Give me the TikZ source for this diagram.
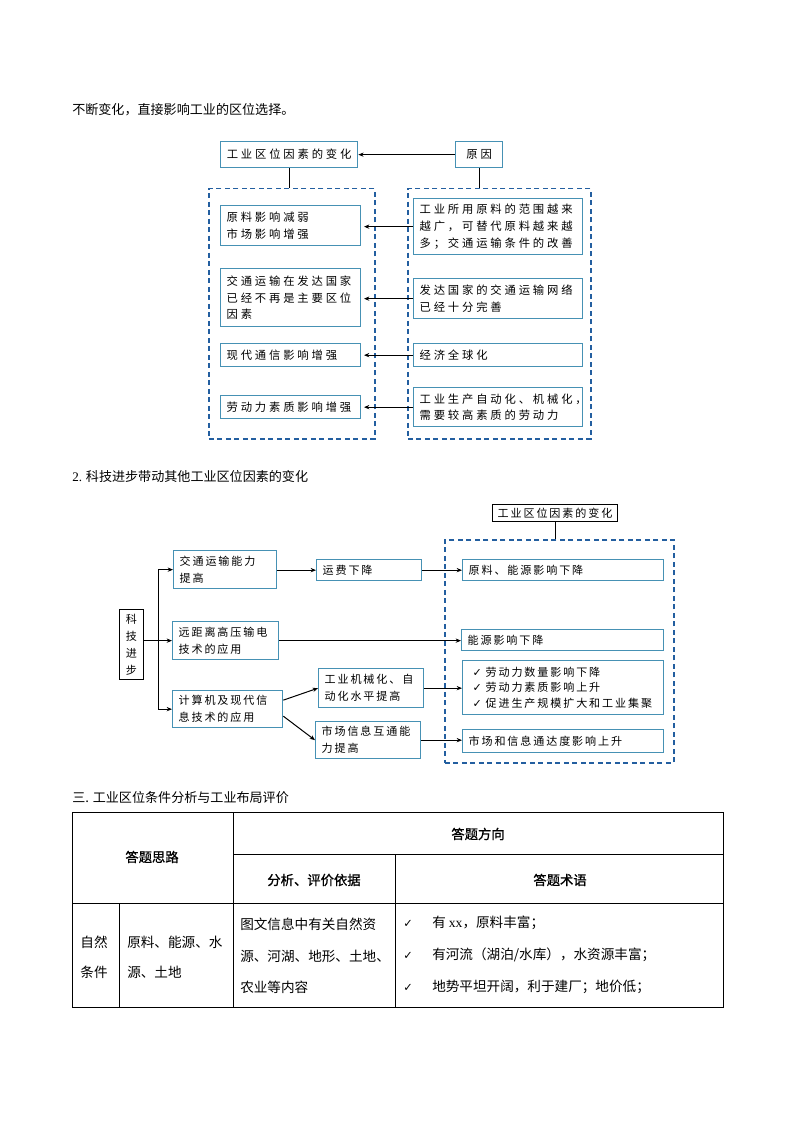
\documentclass[tikz,border=0pt]{standalone}
\usepackage{fontspec}
\setmainfont{Noto Sans CJK SC}
\newfontfamily\bxA[LetterSpace=25]{Noto Sans CJK SC}
\newfontfamily\bxB[LetterSpace=17]{Noto Sans CJK SC}
\newfontfamily\hdfont[FakeBold=1]{Noto Sans CJK SC}
\newfontfamily\djv{DejaVu Sans}
\newfontfamily\lat{Liberation Serif}
\usetikzlibrary{arrows.meta,calc}
\newdimen\px \px=0.75pt
\definecolor{boxc}{RGB}{70,145,180}
\definecolor{dashc}{RGB}{35,95,160}
\begin{document}
\begin{tikzpicture}[x=0.75pt,y=-0.75pt,
  bxa/.style={draw=boxc, line width=1.3\px, anchor=north west, inner xsep=6\px, inner ysep=0pt, align=left, font=\bxA\fontsize{8.5pt}{12.5pt}\selectfont},
  bxb/.style={draw=boxc, line width=1.3\px, anchor=north west, inner xsep=6\px, inner ysep=0pt, align=left, font=\bxB\fontsize{8.3pt}{12.75pt}\selectfont},
  blk/.style={draw=black, line width=1\px, anchor=north west, inner sep=0pt, align=center, font=\bxB\fontsize{8.3pt}{12.75pt}\selectfont},
  dbox/.style={draw=dashc, line width=1.5\px, dash pattern=on 5\px off 3.5\px, anchor=north west, inner sep=0pt},
  arr/.style={-{Stealth[length=4pt,width=3.2pt]}, line width=1\px},
  ln/.style={line width=1\px},
  tl/.style={line width=1\px},
  head/.style={anchor=west, font=\fontsize{9.8pt}{12pt}\selectfont, inner sep=0pt},
  tt/.style={font=\fontsize{10.2pt}{12pt}\selectfont, inner sep=0pt},
  th/.style={font=\hdfont\fontsize{10pt}{12pt}\selectfont, inner sep=0pt}
]
\useasboundingbox (0,0) rectangle (794,1123);

% ---------- top text ----------
\node[head] (t1) at (72,110) {不断变化，直接影响工业的区位选择。};

% ---------- diagram 1 ----------
\node[bxa, align=center, text width=125\px, minimum height=26\px] (A) at (220,141) {工业区位因素的变化};
\node[bxa, align=center, text width=35\px, minimum height=26\px] (B) at (455,141) {原因};
\node[dbox, minimum width=166\px, minimum height=250\px] (DL) at (208,188) {};
\node[dbox, minimum width=183\px, minimum height=250\px] (DR) at (407,188) {};

\node[bxa, text width=128\px, minimum height=40\px] (L1) at (220,205) {原料影响减弱\\市场影响增强};
\node[bxa, text width=128\px, minimum height=58\px] (L2) at (220,268) {交通运输在发达国家\\已经不再是主要区位\\因素};
\node[bxa, text width=128\px, minimum height=23\px] (L3) at (220,343) {现代通信影响增强};
\node[bxa, text width=128\px, minimum height=23\px] (L4) at (220,395) {劳动力素质影响增强};

\node[bxa, text width=157\px, minimum height=56\px] (R1) at (413,198) {工业所用原料的范围越来\\越广，可替代原料越来越\\多；交通运输条件的改善};
\node[bxa, text width=157\px, minimum height=40\px] (R2) at (413,278) {发达国家的交通运输网络\\已经十分完善};
\node[bxa, text width=157\px, minimum height=23\px] (R3) at (413,343) {经济全球化};
\node[bxa, text width=157\px, minimum height=39\px] (R4) at (413,387) {工业生产自动化、机械化，\\需要较高素质的劳动力};

\draw[arr] (B.west) -- (A.east);
\draw[ln] (A.south) -- (A.south |- DL.north);
\draw[ln] (B.south) -- (B.south |- DR.north);
\coordinate (lend) at (364,0);
\draw[arr] (R1.west) -- (R1.west -| lend);
\draw[arr] (R2.west) -- (R2.west -| lend);
\draw[arr] (R3.west) -- (R3.west -| lend);
\draw[arr] (R4.west) -- (R4.west -| lend);

% ---------- heading 2 ----------
\node[head] (t2) at (72,476) {{\lat 2.} 科技进步带动其他工业区位因素的变化};

% ---------- diagram 2 ----------
\node[blk, minimum width=24\px, minimum height=70\px] (K) at (119,609) {科\\技\\进\\步};
\node[bxb, text width=91\px, minimum height=38\px] (T1) at (173,550) {交通运输能力\\提高};
\node[bxb, text width=94\px, minimum height=38\px] (T2) at (172,621) {远距离高压输电\\技术的应用};
\node[bxb, text width=98\px, minimum height=37\px] (T3) at (172,690) {计算机及现代信\\息技术的应用};
\node[bxb, text width=93\px, minimum height=21\px] (M1) at (316,559) {运费下降};
\node[bxb, text width=93\px, minimum height=39\px] (M2) at (318,668) {工业机械化、自\\动化水平提高};
\node[bxb, text width=93\px, minimum height=37\px] (M3) at (315,721) {市场信息互通能\\力提高};

\node[blk, minimum width=125\px, minimum height=17\px] (H) at (492,504) {工业区位因素的变化};
\node[dbox, minimum width=229\px, minimum height=223\px] (D2) at (444,539) {};
\node[bxb, text width=189\px, minimum height=21\px] (E1) at (462,559) {原料、能源影响下降};
\node[bxb, text width=190\px, minimum height=21\px] (E2) at (461,629) {能源影响下降};
\node[bxb, inner xsep=10\px, text width=181\px, minimum height=54\px, font=\bxB\fontsize{8.3pt}{11.6pt}\selectfont] (E3) at (462,660)
  {\makebox[13\px][l]{\djv ✓}劳动力数量影响下降\\\makebox[13\px][l]{\djv ✓}劳动力素质影响上升\\\makebox[13\px][l]{\djv ✓}促进生产规模扩大和工业集聚};
\node[bxb, text width=189\px, minimum height=23\px] (E4) at (462,729) {市场和信息通达度影响上升};

\coordinate (trunk) at (158,0);
\draw[ln] (K.east |- T2.west) -- (T2.west -| trunk);
\draw[ln] (T1.west -| trunk) -- (T3.west -| trunk);
\draw[arr] (T1.west -| trunk) -- (T1.west);
\draw[arr] (T2.west -| trunk) -- (T2.west);
\draw[arr] (T3.west -| trunk) -- (T3.west);
\draw[arr] (M1.west -| T1.east) -- (M1.west);
\draw[arr] (M1.east) -- (E1.west);
\draw[arr] (T2.east) -- (T2.east -| E2.west);
\draw[arr] ($(T3.east)+(0,-9)$) -- (M2.west);
\draw[arr] ($(T3.east)+(0,7)$) -- (M3.west);
\draw[arr] (M2.east) -- (M2.east -| E3.west);
\draw[arr] (M3.east) -- (M3.east -| E4.west);
\draw[ln] (H.south) -- (H.south |- D2.north);

% ---------- heading 3 ----------
\node[head] (t3) at (72,798) {三. 工业区位条件分析与工业布局评价};

% ---------- table ----------
\draw[tl] (72,812) rectangle (723,1007);
\draw[tl] (72,903) -- (723,903);
\draw[tl] (233,854) -- (723,854);
\draw[tl] (233,812) -- (233,1007);
\draw[tl] (395,854) -- (395,1007);
\draw[tl] (119,903) -- (119,1007);

\node[th] (h1) at (478,834) {答题方向};
\node[th] (h2) at (152,857) {答题思路};
\node[th] (h3) at (314,880) {分析、评价依据};
\node[th] (h4) at (560,880) {答题术语};

\node[tt, align=center, font=\fontsize{10.2pt}{22.5pt}\selectfont] (c1) at (94,957) {自然\\条件};
\node[tt, anchor=west, align=left, font=\fontsize{10.2pt}{22.5pt}\selectfont] (c2) at (127,957) {原料、能源、水\\源、土地};
\node[tt, anchor=west, align=left, font=\fontsize{10.2pt}{23.6pt}\selectfont] (c3) at (240,956) {图文信息中有关自然资\\源、河湖、地形、土地、\\农业等内容};
\node[tt, anchor=west, align=left, font=\fontsize{10.2pt}{24pt}\selectfont] (c4) at (403,955)
  {\makebox[29\px][l]{\djv\fontsize{8.5pt}{8pt}\selectfont ✓}有 {\lat xx}，原料丰富；\\\makebox[29\px][l]{\djv\fontsize{8.5pt}{8pt}\selectfont ✓}有河流（湖泊/水库），水资源丰富；\\\makebox[29\px][l]{\djv\fontsize{8.5pt}{8pt}\selectfont ✓}地势平坦开阔，利于建厂；地价低；};
\end{tikzpicture}
\end{document}
